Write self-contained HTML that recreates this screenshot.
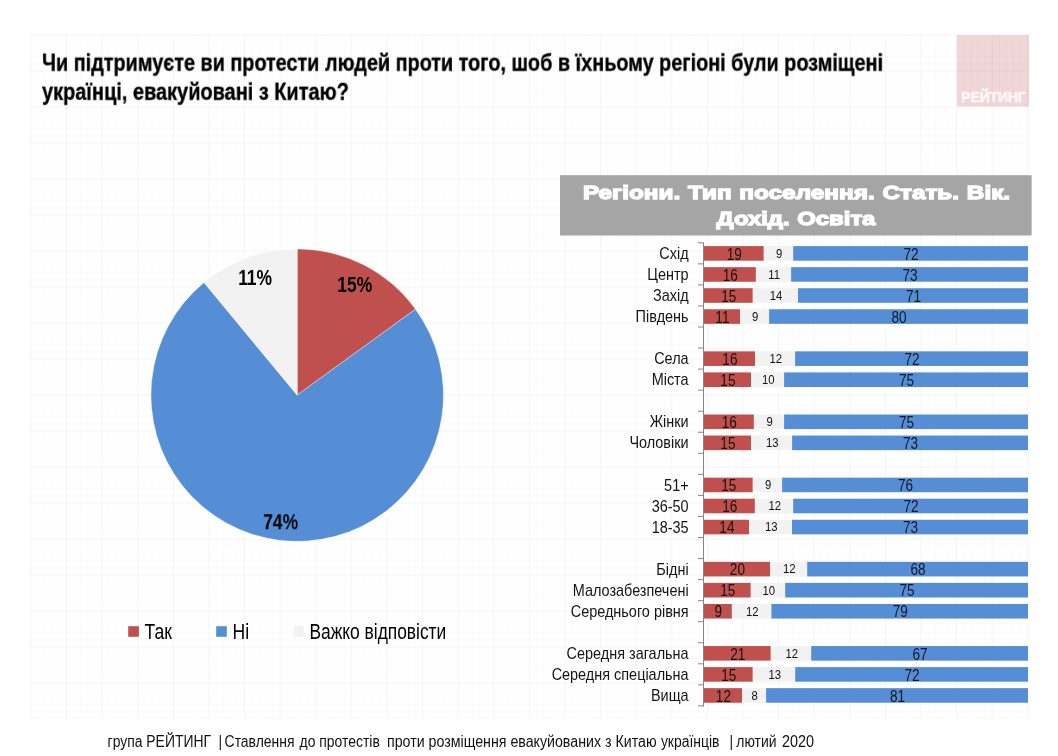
<!DOCTYPE html><html><head><meta charset="utf-8"><style>html,body{margin:0;padding:0;background:#fff;width:1058px;height:756px;overflow:hidden}svg{display:block;will-change:transform}text{font-family:"Liberation Sans",sans-serif}</style></head><body>
<svg width="1058" height="756" viewBox="0 0 1058 756">
<defs><pattern id="gmin" x="30.5" y="34.5" width="7.12" height="7.2" patternUnits="userSpaceOnUse"><path d="M0 0H7.12M0 0V7.2" stroke="#000" stroke-opacity="0.026" stroke-width="1" fill="none"/></pattern><pattern id="gmaj" x="30.5" y="34.5" width="35.6" height="36" patternUnits="userSpaceOnUse"><path d="M0 0H35.6M0 0V36" stroke="#000" stroke-opacity="0.048" stroke-width="1" fill="none"/></pattern></defs>
<rect x="957" y="35" width="72" height="71.5" fill="#f0d6d6"/>
<text transform="translate(993.5,101.7) scale(1.0,1)" text-anchor="middle" font-size="13.8" font-weight="bold" fill="#fdf8f8" stroke="#fdf8f8" stroke-width="0.7">РЕЙТИНГ</text>
<rect x="30" y="34" width="999" height="685" fill="url(#gmin)"/>
<rect x="30" y="34" width="999" height="685" fill="url(#gmaj)"/>
<text transform="translate(42,70.7) scale(0.863,1)" text-anchor="start" font-size="23" font-weight="bold" fill="#000" stroke="#000" stroke-width="0.35">Чи підтримуєте ви протести людей проти того, шоб в їхньому регіоні були розміщені</text>
<text transform="translate(42,99.8) scale(0.868,1)" text-anchor="start" font-size="23" font-weight="bold" fill="#000" stroke="#000" stroke-width="0.35">українці, евакуйовані з Китаю?</text>
<path d="M297.2 395.1 L297.20 248.90 A146.2 146.2 0 0 1 415.48 309.17 Z" fill="#c0504d" stroke="#fff" stroke-width="0.35" stroke-linejoin="round"/>
<path d="M297.2 395.1 L415.48 309.17 A146.2 146.2 0 1 1 204.01 282.45 Z" fill="#558ed5" stroke="#fff" stroke-width="0.35" stroke-linejoin="round"/>
<path d="M297.2 395.1 L204.01 282.45 A146.2 146.2 0 0 1 297.20 248.90 Z" fill="#f2f2f2" stroke="#fff" stroke-width="0.35" stroke-linejoin="round"/>
<text transform="translate(354.8,292.2) scale(0.8,1)" text-anchor="middle" font-size="21.8" font-weight="bold" fill="#000" >15%</text>
<text transform="translate(255.1,284.9) scale(0.8,1)" text-anchor="middle" font-size="21.8" font-weight="bold" fill="#000" >11%</text>
<text transform="translate(280.6,529.2) scale(0.8,1)" text-anchor="middle" font-size="21.8" font-weight="bold" fill="#000" >74%</text>
<rect x="128.2" y="626.2" width="10.7" height="10.6" fill="#c0504d"/>
<text transform="translate(144.6,639.0) scale(0.8,1)" text-anchor="start" font-size="22" font-weight="normal" fill="#000" >Так</text>
<rect x="216.2" y="626.2" width="10.6" height="10.6" fill="#558ed5"/>
<text transform="translate(232.6,639.0) scale(0.8,1)" text-anchor="start" font-size="22" font-weight="normal" fill="#000" >Ні</text>
<rect x="293.6" y="626.2" width="10.2" height="10.6" fill="#f2f2f2"/>
<text transform="translate(309.4,639.0) scale(0.79,1)" text-anchor="start" font-size="22" font-weight="normal" fill="#000" >Важко відповісти</text>
<rect x="560" y="175.2" width="471.6" height="60.3" fill="#a5a5a5"/>
<text transform="translate(796.5,199.4) scale(1.268,1)" text-anchor="middle" font-size="19.2" font-weight="bold" fill="#fff" stroke="#fff" stroke-width="1.3" word-spacing="0.8">Регіони. Тип поселення. Стать. Вік.</text>
<text transform="translate(796,225.3) scale(1.245,1)" text-anchor="middle" font-size="19.2" font-weight="bold" fill="#fff" stroke="#fff" stroke-width="1.3" word-spacing="0.8">Дохід. Освіта</text>
<line x1="703.5" y1="242.8" x2="703.5" y2="706.4000000000001" stroke="#868686" stroke-width="1"/>
<line x1="698" y1="242.80" x2="704" y2="242.80" stroke="#868686" stroke-width="1"/>
<line x1="698" y1="263.85" x2="704" y2="263.85" stroke="#868686" stroke-width="1"/>
<line x1="698" y1="284.90" x2="704" y2="284.90" stroke="#868686" stroke-width="1"/>
<line x1="698" y1="305.95" x2="704" y2="305.95" stroke="#868686" stroke-width="1"/>
<line x1="698" y1="327.00" x2="704" y2="327.00" stroke="#868686" stroke-width="1"/>
<line x1="698" y1="348.05" x2="704" y2="348.05" stroke="#868686" stroke-width="1"/>
<line x1="698" y1="369.10" x2="704" y2="369.10" stroke="#868686" stroke-width="1"/>
<line x1="698" y1="390.15" x2="704" y2="390.15" stroke="#868686" stroke-width="1"/>
<line x1="698" y1="411.20" x2="704" y2="411.20" stroke="#868686" stroke-width="1"/>
<line x1="698" y1="432.25" x2="704" y2="432.25" stroke="#868686" stroke-width="1"/>
<line x1="698" y1="453.30" x2="704" y2="453.30" stroke="#868686" stroke-width="1"/>
<line x1="698" y1="474.35" x2="704" y2="474.35" stroke="#868686" stroke-width="1"/>
<line x1="698" y1="495.40" x2="704" y2="495.40" stroke="#868686" stroke-width="1"/>
<line x1="698" y1="516.45" x2="704" y2="516.45" stroke="#868686" stroke-width="1"/>
<line x1="698" y1="537.50" x2="704" y2="537.50" stroke="#868686" stroke-width="1"/>
<line x1="698" y1="558.55" x2="704" y2="558.55" stroke="#868686" stroke-width="1"/>
<line x1="698" y1="579.60" x2="704" y2="579.60" stroke="#868686" stroke-width="1"/>
<line x1="698" y1="600.65" x2="704" y2="600.65" stroke="#868686" stroke-width="1"/>
<line x1="698" y1="621.70" x2="704" y2="621.70" stroke="#868686" stroke-width="1"/>
<line x1="698" y1="642.75" x2="704" y2="642.75" stroke="#868686" stroke-width="1"/>
<line x1="698" y1="663.80" x2="704" y2="663.80" stroke="#868686" stroke-width="1"/>
<line x1="698" y1="684.85" x2="704" y2="684.85" stroke="#868686" stroke-width="1"/>
<line x1="698" y1="705.90" x2="704" y2="705.90" stroke="#868686" stroke-width="1"/>
<rect x="704" y="246.10" width="59.80" height="14.6" fill="#c0504d"/>
<rect x="763.80" y="246.10" width="29.40" height="14.6" fill="#f2f2f2"/>
<rect x="793.20" y="246.10" width="234.80" height="14.6" fill="#558ed5"/>
<text transform="translate(688.6,259.0) scale(0.903,1)" text-anchor="end" font-size="16" font-weight="normal" fill="#141414" >Схід</text>
<text transform="translate(734.3,259.6) scale(0.8,1)" text-anchor="middle" font-size="17" font-weight="normal" fill="#1a1010" >19</text>
<text transform="translate(779.2,257.7) scale(0.87,1)" text-anchor="middle" font-size="13" font-weight="normal" fill="#111" >9</text>
<text transform="translate(911.1,259.6) scale(0.8,1)" text-anchor="middle" font-size="17" font-weight="normal" fill="#101828" >72</text>
<rect x="704" y="267.15" width="51.90" height="14.6" fill="#c0504d"/>
<rect x="755.90" y="267.15" width="35.20" height="14.6" fill="#f2f2f2"/>
<rect x="791.10" y="267.15" width="236.90" height="14.6" fill="#558ed5"/>
<text transform="translate(688.6,280.05) scale(0.903,1)" text-anchor="end" font-size="16" font-weight="normal" fill="#141414" >Центр</text>
<text transform="translate(730.35,280.65) scale(0.8,1)" text-anchor="middle" font-size="17" font-weight="normal" fill="#1a1010" >16</text>
<text transform="translate(774.2,278.75) scale(0.87,1)" text-anchor="middle" font-size="13" font-weight="normal" fill="#111" >11</text>
<text transform="translate(910.05,280.65) scale(0.8,1)" text-anchor="middle" font-size="17" font-weight="normal" fill="#101828" >73</text>
<rect x="704" y="288.20" width="48.80" height="14.6" fill="#c0504d"/>
<rect x="752.80" y="288.20" width="45.20" height="14.6" fill="#f2f2f2"/>
<rect x="798.00" y="288.20" width="230.00" height="14.6" fill="#558ed5"/>
<text transform="translate(688.6,301.1) scale(0.903,1)" text-anchor="end" font-size="16" font-weight="normal" fill="#141414" >Захід</text>
<text transform="translate(728.8,301.7) scale(0.8,1)" text-anchor="middle" font-size="17" font-weight="normal" fill="#1a1010" >15</text>
<text transform="translate(776.1,299.8) scale(0.87,1)" text-anchor="middle" font-size="13" font-weight="normal" fill="#111" >14</text>
<text transform="translate(913.5,301.7) scale(0.8,1)" text-anchor="middle" font-size="17" font-weight="normal" fill="#101828" >71</text>
<rect x="704" y="309.25" width="36.00" height="14.6" fill="#c0504d"/>
<rect x="740.00" y="309.25" width="29.10" height="14.6" fill="#f2f2f2"/>
<rect x="769.10" y="309.25" width="258.90" height="14.6" fill="#558ed5"/>
<text transform="translate(688.6,322.15000000000003) scale(0.903,1)" text-anchor="end" font-size="16" font-weight="normal" fill="#141414" >Південь</text>
<text transform="translate(722.4,322.75) scale(0.8,1)" text-anchor="middle" font-size="17" font-weight="normal" fill="#1a1010" >11</text>
<text transform="translate(755.25,320.85) scale(0.87,1)" text-anchor="middle" font-size="13" font-weight="normal" fill="#111" >9</text>
<text transform="translate(899.05,322.75) scale(0.8,1)" text-anchor="middle" font-size="17" font-weight="normal" fill="#101828" >80</text>
<rect x="704" y="351.35" width="51.00" height="14.6" fill="#c0504d"/>
<rect x="755.00" y="351.35" width="40.10" height="14.6" fill="#f2f2f2"/>
<rect x="795.10" y="351.35" width="232.90" height="14.6" fill="#558ed5"/>
<text transform="translate(688.6,364.25000000000006) scale(0.903,1)" text-anchor="end" font-size="16" font-weight="normal" fill="#141414" >Села</text>
<text transform="translate(729.9,364.85) scale(0.8,1)" text-anchor="middle" font-size="17" font-weight="normal" fill="#1a1010" >16</text>
<text transform="translate(775.75,362.95000000000005) scale(0.87,1)" text-anchor="middle" font-size="13" font-weight="normal" fill="#111" >12</text>
<text transform="translate(912.05,364.85) scale(0.8,1)" text-anchor="middle" font-size="17" font-weight="normal" fill="#101828" >72</text>
<rect x="704" y="372.40" width="47.00" height="14.6" fill="#c0504d"/>
<rect x="751.00" y="372.40" width="33.10" height="14.6" fill="#f2f2f2"/>
<rect x="784.10" y="372.40" width="243.90" height="14.6" fill="#558ed5"/>
<text transform="translate(688.6,385.3) scale(0.903,1)" text-anchor="end" font-size="16" font-weight="normal" fill="#141414" >Міста</text>
<text transform="translate(727.9,385.9) scale(0.8,1)" text-anchor="middle" font-size="17" font-weight="normal" fill="#1a1010" >15</text>
<text transform="translate(768.25,384.0) scale(0.87,1)" text-anchor="middle" font-size="13" font-weight="normal" fill="#111" >10</text>
<text transform="translate(906.55,385.9) scale(0.8,1)" text-anchor="middle" font-size="17" font-weight="normal" fill="#101828" >75</text>
<rect x="704" y="414.50" width="49.90" height="14.6" fill="#c0504d"/>
<rect x="753.90" y="414.50" width="30.20" height="14.6" fill="#f2f2f2"/>
<rect x="784.10" y="414.50" width="243.90" height="14.6" fill="#558ed5"/>
<text transform="translate(688.6,427.40000000000003) scale(0.903,1)" text-anchor="end" font-size="16" font-weight="normal" fill="#141414" >Жінки</text>
<text transform="translate(729.35,428.0) scale(0.8,1)" text-anchor="middle" font-size="17" font-weight="normal" fill="#1a1010" >16</text>
<text transform="translate(769.7,426.1) scale(0.87,1)" text-anchor="middle" font-size="13" font-weight="normal" fill="#111" >9</text>
<text transform="translate(906.55,428.0) scale(0.8,1)" text-anchor="middle" font-size="17" font-weight="normal" fill="#101828" >75</text>
<rect x="704" y="435.55" width="47.00" height="14.6" fill="#c0504d"/>
<rect x="751.00" y="435.55" width="41.10" height="14.6" fill="#f2f2f2"/>
<rect x="792.10" y="435.55" width="235.90" height="14.6" fill="#558ed5"/>
<text transform="translate(688.6,448.45000000000005) scale(0.903,1)" text-anchor="end" font-size="16" font-weight="normal" fill="#141414" >Чоловіки</text>
<text transform="translate(727.9,449.05) scale(0.8,1)" text-anchor="middle" font-size="17" font-weight="normal" fill="#1a1010" >15</text>
<text transform="translate(772.25,447.15000000000003) scale(0.87,1)" text-anchor="middle" font-size="13" font-weight="normal" fill="#111" >13</text>
<text transform="translate(910.55,449.05) scale(0.8,1)" text-anchor="middle" font-size="17" font-weight="normal" fill="#101828" >73</text>
<rect x="704" y="477.65" width="48.80" height="14.6" fill="#c0504d"/>
<rect x="752.80" y="477.65" width="29.30" height="14.6" fill="#f2f2f2"/>
<rect x="782.10" y="477.65" width="245.90" height="14.6" fill="#558ed5"/>
<text transform="translate(688.6,490.55) scale(0.903,1)" text-anchor="end" font-size="16" font-weight="normal" fill="#141414" >51+</text>
<text transform="translate(728.8,491.15) scale(0.8,1)" text-anchor="middle" font-size="17" font-weight="normal" fill="#1a1010" >15</text>
<text transform="translate(768.1500000000001,489.25) scale(0.87,1)" text-anchor="middle" font-size="13" font-weight="normal" fill="#111" >9</text>
<text transform="translate(905.55,491.15) scale(0.8,1)" text-anchor="middle" font-size="17" font-weight="normal" fill="#101828" >76</text>
<rect x="704" y="498.70" width="50.90" height="14.6" fill="#c0504d"/>
<rect x="754.90" y="498.70" width="38.30" height="14.6" fill="#f2f2f2"/>
<rect x="793.20" y="498.70" width="234.80" height="14.6" fill="#558ed5"/>
<text transform="translate(688.6,511.6000000000001) scale(0.903,1)" text-anchor="end" font-size="16" font-weight="normal" fill="#141414" >36-50</text>
<text transform="translate(729.85,512.2) scale(0.8,1)" text-anchor="middle" font-size="17" font-weight="normal" fill="#1a1010" >16</text>
<text transform="translate(774.75,510.30000000000007) scale(0.87,1)" text-anchor="middle" font-size="13" font-weight="normal" fill="#111" >12</text>
<text transform="translate(911.1,512.2) scale(0.8,1)" text-anchor="middle" font-size="17" font-weight="normal" fill="#101828" >72</text>
<rect x="704" y="519.75" width="45.00" height="14.6" fill="#c0504d"/>
<rect x="749.00" y="519.75" width="43.00" height="14.6" fill="#f2f2f2"/>
<rect x="792.00" y="519.75" width="236.00" height="14.6" fill="#558ed5"/>
<text transform="translate(688.6,532.65) scale(0.903,1)" text-anchor="end" font-size="16" font-weight="normal" fill="#141414" >18-35</text>
<text transform="translate(726.9,533.25) scale(0.8,1)" text-anchor="middle" font-size="17" font-weight="normal" fill="#1a1010" >14</text>
<text transform="translate(771.2,531.3499999999999) scale(0.87,1)" text-anchor="middle" font-size="13" font-weight="normal" fill="#111" >13</text>
<text transform="translate(910.5,533.25) scale(0.8,1)" text-anchor="middle" font-size="17" font-weight="normal" fill="#101828" >73</text>
<rect x="704" y="561.85" width="66.00" height="14.6" fill="#c0504d"/>
<rect x="770.00" y="561.85" width="37.20" height="14.6" fill="#f2f2f2"/>
<rect x="807.20" y="561.85" width="220.80" height="14.6" fill="#558ed5"/>
<text transform="translate(688.6,574.75) scale(0.903,1)" text-anchor="end" font-size="16" font-weight="normal" fill="#141414" >Бідні</text>
<text transform="translate(737.4,575.35) scale(0.8,1)" text-anchor="middle" font-size="17" font-weight="normal" fill="#1a1010" >20</text>
<text transform="translate(789.3000000000001,573.4499999999999) scale(0.87,1)" text-anchor="middle" font-size="13" font-weight="normal" fill="#111" >12</text>
<text transform="translate(918.1,575.35) scale(0.8,1)" text-anchor="middle" font-size="17" font-weight="normal" fill="#101828" >68</text>
<rect x="704" y="582.90" width="46.80" height="14.6" fill="#c0504d"/>
<rect x="750.80" y="582.90" width="34.40" height="14.6" fill="#f2f2f2"/>
<rect x="785.20" y="582.90" width="242.80" height="14.6" fill="#558ed5"/>
<text transform="translate(688.6,595.8) scale(0.903,1)" text-anchor="end" font-size="16" font-weight="normal" fill="#141414" >Малозабезпечені</text>
<text transform="translate(727.8,596.4) scale(0.8,1)" text-anchor="middle" font-size="17" font-weight="normal" fill="#1a1010" >15</text>
<text transform="translate(768.7,594.4999999999999) scale(0.87,1)" text-anchor="middle" font-size="13" font-weight="normal" fill="#111" >10</text>
<text transform="translate(907.1,596.4) scale(0.8,1)" text-anchor="middle" font-size="17" font-weight="normal" fill="#101828" >75</text>
<rect x="704" y="603.95" width="27.90" height="14.6" fill="#c0504d"/>
<rect x="731.90" y="603.95" width="39.50" height="14.6" fill="#f2f2f2"/>
<rect x="771.40" y="603.95" width="256.60" height="14.6" fill="#558ed5"/>
<text transform="translate(688.6,616.85) scale(0.903,1)" text-anchor="end" font-size="16" font-weight="normal" fill="#141414" >Середнього рівня</text>
<text transform="translate(718.35,617.45) scale(0.8,1)" text-anchor="middle" font-size="17" font-weight="normal" fill="#1a1010" >9</text>
<text transform="translate(752.35,615.55) scale(0.87,1)" text-anchor="middle" font-size="13" font-weight="normal" fill="#111" >12</text>
<text transform="translate(900.2,617.45) scale(0.8,1)" text-anchor="middle" font-size="17" font-weight="normal" fill="#101828" >79</text>
<rect x="704" y="646.05" width="66.80" height="14.6" fill="#c0504d"/>
<rect x="770.80" y="646.05" width="40.40" height="14.6" fill="#f2f2f2"/>
<rect x="811.20" y="646.05" width="216.80" height="14.6" fill="#558ed5"/>
<text transform="translate(688.6,658.9499999999999) scale(0.903,1)" text-anchor="end" font-size="16" font-weight="normal" fill="#141414" >Середня загальна</text>
<text transform="translate(737.8,659.55) scale(0.8,1)" text-anchor="middle" font-size="17" font-weight="normal" fill="#1a1010" >21</text>
<text transform="translate(791.7,657.6499999999999) scale(0.87,1)" text-anchor="middle" font-size="13" font-weight="normal" fill="#111" >12</text>
<text transform="translate(920.1,659.55) scale(0.8,1)" text-anchor="middle" font-size="17" font-weight="normal" fill="#101828" >67</text>
<rect x="704" y="667.10" width="48.80" height="14.6" fill="#c0504d"/>
<rect x="752.80" y="667.10" width="42.40" height="14.6" fill="#f2f2f2"/>
<rect x="795.20" y="667.10" width="232.80" height="14.6" fill="#558ed5"/>
<text transform="translate(688.6,680.0) scale(0.903,1)" text-anchor="end" font-size="16" font-weight="normal" fill="#141414" >Середня спеціальна</text>
<text transform="translate(728.8,680.6) scale(0.8,1)" text-anchor="middle" font-size="17" font-weight="normal" fill="#1a1010" >15</text>
<text transform="translate(774.7,678.6999999999999) scale(0.87,1)" text-anchor="middle" font-size="13" font-weight="normal" fill="#111" >13</text>
<text transform="translate(912.1,680.6) scale(0.8,1)" text-anchor="middle" font-size="17" font-weight="normal" fill="#101828" >72</text>
<rect x="704" y="688.15" width="38.00" height="14.6" fill="#c0504d"/>
<rect x="742.00" y="688.15" width="24.10" height="14.6" fill="#f2f2f2"/>
<rect x="766.10" y="688.15" width="261.90" height="14.6" fill="#558ed5"/>
<text transform="translate(688.6,701.05) scale(0.903,1)" text-anchor="end" font-size="16" font-weight="normal" fill="#141414" >Вища</text>
<text transform="translate(723.4,701.65) scale(0.8,1)" text-anchor="middle" font-size="17" font-weight="normal" fill="#1a1010" >12</text>
<text transform="translate(754.75,699.7499999999999) scale(0.87,1)" text-anchor="middle" font-size="13" font-weight="normal" fill="#111" >8</text>
<text transform="translate(897.55,701.65) scale(0.8,1)" text-anchor="middle" font-size="17" font-weight="normal" fill="#101828" >81</text>
<text transform="translate(107.6,747) scale(0.87,1)" text-anchor="start" font-size="16" font-weight="normal" fill="#111" >група РЕЙТИНГ</text>
<text transform="translate(218.6,747) scale(0.87,1)" text-anchor="start" font-size="16" font-weight="normal" fill="#111" >|</text>
<text transform="translate(224.6,747) scale(0.87,1)" text-anchor="start" font-size="16" font-weight="normal" fill="#111" >Ставлення</text>
<text transform="translate(299.6,747) scale(0.87,1)" text-anchor="start" font-size="16" font-weight="normal" fill="#111" >до протестів</text>
<text transform="translate(387.0,747) scale(0.888,1)" text-anchor="start" font-size="16" font-weight="normal" fill="#111" >проти розміщення евакуйованих з Китаю</text>
<text transform="translate(660.9,747) scale(0.87,1)" text-anchor="start" font-size="16" font-weight="normal" fill="#111" >українців</text>
<text transform="translate(729.4,747) scale(0.87,1)" text-anchor="start" font-size="16" font-weight="normal" fill="#111" >|</text>
<text transform="translate(736.3,747) scale(0.87,1)" text-anchor="start" font-size="16" font-weight="normal" fill="#111" >лютий</text>
<text transform="translate(782.0,747) scale(0.9,1)" text-anchor="start" font-size="16" font-weight="normal" fill="#111" >2020</text>
</svg></body></html>
